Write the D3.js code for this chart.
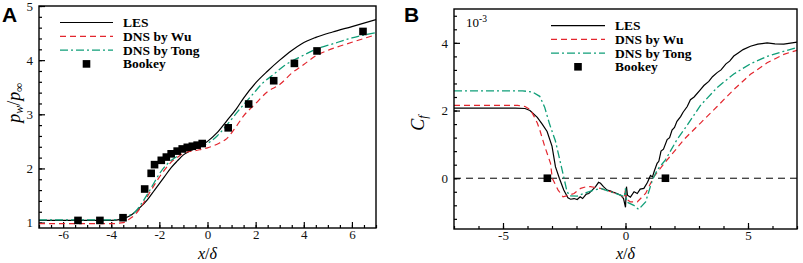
<!DOCTYPE html>
<html>
<head>
<meta charset="utf-8">
<script src="https://cdn.jsdelivr.net/npm/d3@7"></script>
<style>
  body { margin: 0; background: #fff; }
  svg text { font-family: "Liberation Serif", "DejaVu Serif", serif; }
</style>
</head>
<body>
<div id="chart"></div>
<script>
// ---- panel A : wall pressure ----
const lesA = [[-7,1.04],[-4,1.04],[-3.6,1.06],[-3.2,1.13],[-2.8,1.28],[-2.5,1.42],[-2.2,1.6],[-2,1.72],[-1.8,1.84],[-1.5,2.02],[-1.25,2.14],[-1,2.25],[-0.7,2.33],[-0.5,2.37],[-0.2,2.44],[0,2.5],[0.4,2.66],[0.8,2.88],[1.2,3.1],[1.5,3.3],[2,3.58],[2.5,3.8],[3,4.0],[3.5,4.18],[3.9,4.3],[4.5,4.42],[5.2,4.52],[6,4.62],[7,4.75]];
const wuA = [[-7,0.98],[-4,0.98],[-3.5,1.0],[-3.2,1.08],[-3,1.15],[-2.7,1.33],[-2.5,1.48],[-2.2,1.7],[-2,1.84],[-1.7,2.02],[-1.5,2.12],[-1.2,2.22],[-1,2.28],[-0.5,2.33],[0,2.38],[0.5,2.47],[0.8,2.55],[1.2,2.78],[1.5,2.97],[2,3.2],[2.5,3.42],[3,3.55],[3.5,3.76],[4,3.92],[4.5,4.08],[5,4.18],[6,4.33],[7,4.47]];
const tongA = [[-7,1.05],[-4,1.05],[-3.6,1.07],[-3.3,1.12],[-3,1.2],[-2.7,1.38],[-2.5,1.52],[-2.2,1.75],[-2,1.9],[-1.7,2.07],[-1.5,2.15],[-1.2,2.24],[-1,2.3],[-0.5,2.38],[0,2.46],[0.4,2.6],[0.8,2.8],[1.2,3.02],[1.5,3.18],[1.9,3.38],[2.3,3.58],[2.7,3.72],[3.2,3.9],[3.9,4.07],[4.5,4.2],[5.2,4.3],[6,4.41],[7,4.51]];
const bookeyA = [[-5.38,1.04],[-4.47,1.04],[-3.51,1.09],[-2.61,1.62],[-2.34,1.91],[-2.2,2.07],[-1.92,2.15],[-1.71,2.21],[-1.51,2.27],[-1.26,2.32],[-1.05,2.36],[-0.84,2.39],[-0.63,2.41],[-0.43,2.43],[-0.22,2.46],[0.86,2.75],[1.71,3.19],[2.75,3.62],[3.61,3.94],[4.55,4.17],[6.46,4.53]];

// ---- panel B : skin friction (x 10^-3) ----
const lesB = [[-7,2.07],[-4.5,2.07],[-4.1,2.06],[-3.9,2.0],[-3.6,1.8],[-3.4,1.6],[-3.2,1.38],[-3.0,0.95],[-2.86,0.34],[-2.7,0.0],[-2.52,-0.35],[-2.35,-0.58],[-2.24,-0.62],[-2.1,-0.6],[-1.97,-0.63],[-1.85,-0.55],[-1.75,-0.6],[-1.6,-0.47],[-1.5,-0.45],[-1.4,-0.38],[-1.22,-0.25],[-1.1,-0.12],[-1.02,-0.15],[-0.9,-0.25],[-0.75,-0.35],[-0.6,-0.38],[-0.48,-0.42],[-0.35,-0.45],[-0.2,-0.5],[-0.08,-0.6],[0,-0.86],[0.04,-0.25],[0.08,-0.5],[0.2,-0.56],[0.35,-0.4],[0.48,-0.45],[0.6,-0.32],[0.75,-0.3],[0.9,-0.12],[1.02,0.08],[1.1,0.04],[1.18,0.22],[1.29,0.44],[1.36,0.5],[1.45,0.8],[1.55,0.86],[1.7,1.14],[1.8,1.2],[1.9,1.42],[2.0,1.5],[2.1,1.68],[2.25,1.82],[2.35,1.95],[2.52,2.12],[2.65,2.32],[2.8,2.4],[3.06,2.62],[3.2,2.74],[3.4,2.86],[3.55,3.0],[3.74,3.12],[3.9,3.2],[4.1,3.38],[4.25,3.46],[4.42,3.61],[4.6,3.7],[4.8,3.8],[5.1,3.9],[5.4,3.96],[5.78,4.0],[6.1,3.97],[6.46,3.96],[6.8,4.0],[7,4.02]];
const wuB = [[-7,2.15],[-4.4,2.15],[-4.1,2.12],[-3.88,2.02],[-3.75,1.85],[-3.6,1.63],[-3.5,1.43],[-3.3,0.95],[-3.06,0.44],[-2.99,0.0],[-2.75,-0.35],[-2.55,-0.55],[-2.4,-0.52],[-2.1,-0.45],[-1.83,-0.3],[-1.6,-0.25],[-1.43,-0.25],[-1.02,-0.3],[-0.6,-0.4],[-0.2,-0.5],[-0.05,-0.6],[0,-0.3],[0.05,-0.62],[0.2,-0.7],[0.48,-0.7],[0.82,-0.45],[1.16,0.05],[1.43,0.3],[1.7,0.54],[2.0,0.8],[2.38,1.14],[3.06,1.63],[3.74,2.12],[4.42,2.62],[5.1,3.07],[5.78,3.41],[6.46,3.66],[7,3.78]];
const tongB = [[-7,2.58],[-4.2,2.58],[-3.8,2.55],[-3.5,2.42],[-3.3,2.1],[-3.1,1.6],[-2.86,1.1],[-2.7,0.6],[-2.51,0.0],[-2.4,-0.35],[-2.3,-0.52],[-1.97,-0.53],[-1.7,-0.45],[-1.29,-0.35],[-1.02,-0.3],[-0.61,-0.4],[-0.2,-0.5],[-0.05,-0.55],[0,-0.3],[0.05,-0.7],[0.34,-0.8],[0.54,-0.92],[0.82,-0.7],[1.1,-0.05],[1.3,0.25],[1.63,0.54],[2.1,1.14],[2.5,1.55],[3.06,2.15],[3.74,2.68],[4.42,3.08],[5.1,3.38],[5.78,3.6],[6.46,3.75],[7,3.86]];
const bookeyB = [[-3.19,0],[1.63,0]];

const legendNames = ["LES", "DNS by Wu", "DNS by Tong", "Bookey"];
const ticksA_x = [-6,-4,-2,0,2,4,6];
const ticksA_y = [1,2,3,4,5];
const ticksB_x = [-5,0,5];
const ticksB_y = [0,2,4];

const W = 803, H = 263;
const serif = "'Liberation Serif', 'DejaVu Serif', serif";
const svg = d3.select("#chart").append("svg")
  .attr("width", W).attr("height", H)
  .attr("viewBox", [0, 0, W, H]);

const red = "#e3262e", green = "#0f9e78";
const styles = [
  {stroke: "#000", dash: null, w: 1.2},
  {stroke: red, dash: "6,4", w: 1.2},
  {stroke: green, dash: "8,3,2,3", w: 1.3}
];

function panel(opt) {
  const x = d3.scaleLinear().domain(opt.xd).range([opt.l, opt.r]);
  const y = d3.scaleLinear().domain(opt.yd).range([opt.b, opt.t]);
  const g = svg.append("g");

  // minor ticks
  g.append("g").attr("transform", `translate(0,${opt.b})`)
    .call(d3.axisBottom(x).tickValues(d3.range(opt.xd[0], opt.xd[1] + 1e-9, opt.xm)).tickSize(-3).tickFormat(""))
    .call(a => a.select(".domain").remove());
  g.append("g").attr("transform", `translate(${opt.l},0)`)
    .call(d3.axisLeft(y).tickValues(d3.range(opt.ym0, opt.yd[1] + 1e-9, opt.ym)).tickSize(-3).tickFormat(""))
    .call(a => a.select(".domain").remove());

  // major ticks with labels
  g.append("g").attr("transform", `translate(0,${opt.b})`)
    .call(d3.axisBottom(x).tickValues(opt.xt).tickSize(-6).tickPadding(2).tickFormat(d => String(d)))
    .call(a => a.select(".domain").remove());
  g.append("g").attr("transform", `translate(${opt.l},0)`)
    .call(d3.axisLeft(y).tickValues(opt.yt).tickSize(-6).tickPadding(6).tickFormat(d => String(d)))
    .call(a => a.select(".domain").remove());

  g.selectAll("text").style("font-family", serif).style("font-size", "13px").attr("fill", "#111");
  g.selectAll(".tick line").attr("stroke", "#000").attr("stroke-width", 1.2);

  const clip = "clip" + opt.id;
  svg.append("clipPath").attr("id", clip).append("rect")
    .attr("x", opt.l).attr("y", opt.t).attr("width", opt.r - opt.l).attr("height", opt.b - opt.t);

  const plot = svg.append("g").attr("clip-path", `url(#${clip})`);

  if (opt.zero) {
    plot.append("line")
      .attr("x1", opt.l).attr("x2", opt.r)
      .attr("y1", y(0)).attr("y2", y(0))
      .attr("stroke", "#000").attr("stroke-width", 1).attr("stroke-dasharray", "7,5");
  }

  const line = d3.line().x(d => x(d[0])).y(d => y(d[1])).curve(opt.curve);
  opt.series.forEach((s, i) => {
    plot.append("path").datum(s)
      .attr("fill", "none")
      .attr("stroke", styles[i].stroke)
      .attr("stroke-width", styles[i].w)
      .attr("stroke-dasharray", styles[i].dash)
      .attr("d", line);
  });

  plot.selectAll("rect.sq").data(opt.points).join("rect")
    .attr("class", "sq")
    .attr("x", d => x(d[0]) - 3.8).attr("y", d => y(d[1]) - 3.8)
    .attr("width", 7.6).attr("height", 7.6).attr("fill", "#000");

  // frame
  svg.append("rect")
    .attr("x", opt.l).attr("y", opt.t).attr("width", opt.r - opt.l).attr("height", opt.b - opt.t)
    .attr("fill", "none").attr("stroke", "#000").attr("stroke-width", 1.4);

  // legend
  const lg = svg.append("g");
  legendNames.forEach((name, i) => {
    const ly = opt.legY + i * opt.legStep;
    if (i < 3) {
      lg.append("line").attr("x1", opt.legX0).attr("x2", opt.legX1)
        .attr("y1", ly).attr("y2", ly)
        .attr("stroke", styles[i].stroke).attr("stroke-width", styles[i].w)
        .attr("stroke-dasharray", styles[i].dash);
    } else {
      const cx = (opt.legX0 + opt.legX1) / 2;
      lg.append("rect").attr("x", cx - 3.8).attr("y", ly - 3.8)
        .attr("width", 7.6).attr("height", 7.6).attr("fill", "#000");
    }
    lg.append("text").attr("x", opt.legT).attr("y", ly + 4.5)
      .style("font-family", serif).style("font-size", "13.5px")
      .attr("font-weight", "bold").text(name);
  });

  // panel letter
  svg.append("text").attr("x", opt.letterX).attr("y", 22)
    .style("font-family", "'Liberation Sans', Arial, sans-serif")
    .style("font-size", "21px").attr("font-weight", "bold").text(opt.letter);

  // x label
  const xl = svg.append("text").attr("x", (opt.l + opt.r) / 2).attr("y", 259)
    .attr("text-anchor", "middle").style("font-family", serif).style("font-size", "16px").attr("font-style", "italic");
  xl.append("tspan").text("x");
  xl.append("tspan").attr("font-style", "normal").text("/");
  xl.append("tspan").text("δ");

  return {x, y};
}

panel({
  id: "A", letter: "A", letterX: 2,
  l: 39, r: 376, t: 6, b: 228,
  xd: [-7, 7], yd: [0.9, 5], xm: 0.5, ym: 0.2, ym0: 1,
  xt: ticksA_x, yt: ticksA_y,
  series: [lesA, wuA, tongA], points: bookeyA,
  curve: d3.curveMonotoneX, zero: false,
  legX0: 60, legX1: 113, legT: 123, legY: 22.5, legStep: 13.8
});

panel({
  id: "B", letter: "B", letterX: 404,
  l: 454, r: 797, t: 9, b: 229,
  xd: [-7, 7], yd: [-1.5, 5], xm: 1, ym: 0.4, ym0: -1.2,
  xt: ticksB_x, yt: ticksB_y,
  series: [lesB, wuB, tongB], points: bookeyB,
  curve: d3.curveLinear, zero: true,
  legX0: 551, legX1: 605, legT: 615, legY: 25.7, legStep: 13.7
});

// y labels
const ylA = svg.append("text").attr("transform", "translate(20,103) rotate(-90)")
  .attr("text-anchor", "middle").style("font-family", serif).style("font-size", "18px").attr("font-style", "italic");
ylA.append("tspan").text("p");
ylA.append("tspan").style("font-size", "12px").attr("dy", 3).text("w");
ylA.append("tspan").attr("dy", -3).attr("font-style", "normal").text("/");
ylA.append("tspan").text("p");
ylA.append("tspan").style("font-size", "12px").attr("dy", 3).text("∞");

const ylB = svg.append("text").attr("transform", "translate(424,123) rotate(-90)")
  .attr("text-anchor", "middle").style("font-family", serif).style("font-size", "18px").attr("font-style", "italic");
ylB.append("tspan").text("C");
ylB.append("tspan").style("font-size", "12px").attr("dy", 3).text("f");

const exp = svg.append("text").attr("x", 466).attr("y", 27).style("font-family", serif).style("font-size", "13px");
exp.append("tspan").text("10");
exp.append("tspan").style("font-size", "9.5px").attr("dy", -5).text("-3");
</script>
</body>
</html>
